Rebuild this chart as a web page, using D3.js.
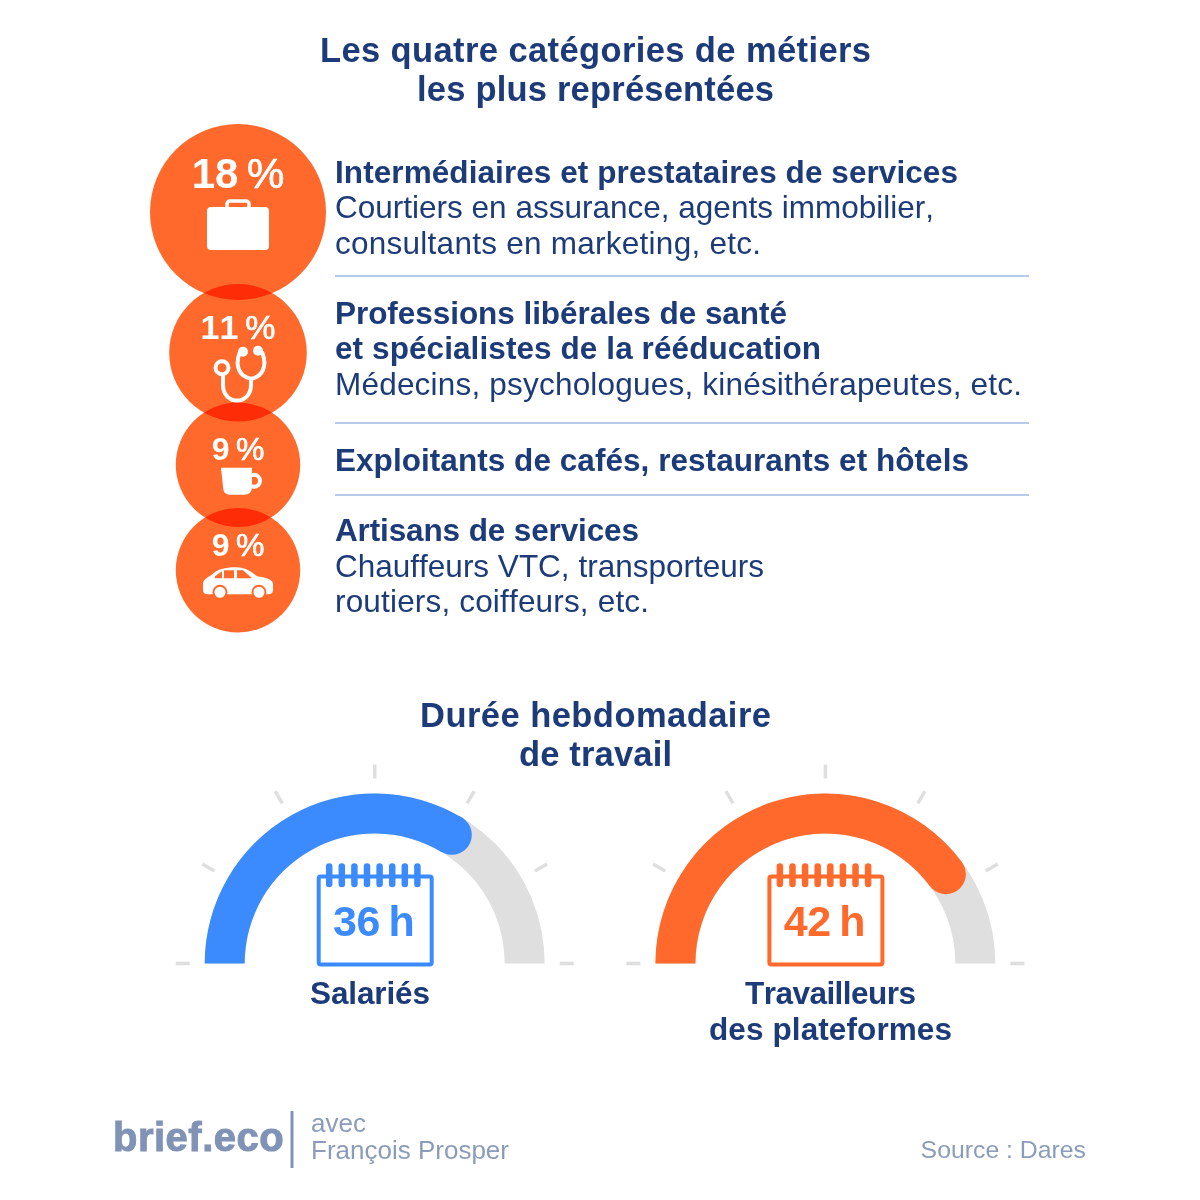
<!DOCTYPE html>
<html lang="fr">
<head>
<meta charset="utf-8">
<script src="https://cdn.jsdelivr.net/npm/d3@7"></script>
<style>
  html, body { margin: 0; background: #fff; }
  svg { display: block; }
  text { font-family: "Liberation Sans", Arial, sans-serif; font-kerning: none; }
  .bold { font-weight: 700; }
</style>
</head>
<body>
<div id="chart"></div>
<script>
// donnees
const parts = [18, 11, 9, 9];
const icones = ["mallette", "stetho", "tasse", "voiture"];
const rowTitles = [
  ["Intermédiaires et prestataires de services"],
  ["Professions libérales de santé", "et spécialistes de la rééducation"],
  ["Exploitants de cafés, restaurants et hôtels"],
  ["Artisans de services"],
];
const rowDetails = [
  ["Courtiers en assurance, agents immobilier,", "consultants en marketing, etc."],
  ["Médecins, psychologues, kinésithérapeutes, etc."],
  [],
  ["Chauffeurs VTC, transporteurs", "routiers, coiffeurs, etc."],
];
const heures = [36, 42];
const heuresLabels = ["36\u2009h", "42\u2009h"];
const gaugeNames = [["Salariés"], ["Travailleurs", "des plateformes"]];
const gaugeTicks = [3.75, 11.75, 19.75, 27.75, 35.75, 43.75, 51.75];

// largeurs mesurees sur le modele
const titleW = [[623], [452, 486], [634], [304]];
const detailW = [[599, 426], [687], [], [429, 314]];

const orange = "#ff6a2c";
const navy = "#1c3b78";
const blue = "#3b8bff";
const grey = "#dfdfdf";
const footerCol = "#8a9cba";

const svg = d3.select("#chart").append("svg")
  .attr("width", 1200)
  .attr("height", 1200)
  .style("background", "#fff");

function multiline(lines, x, y, lh, size, color, anchor, bold, widths) {
  lines.forEach((l, i) => {
    const t = svg.append("text")
      .attr("x", x)
      .attr("y", y + i * lh)
      .attr("font-size", size)
      .attr("fill", color)
      .attr("text-anchor", anchor)
      .attr("class", bold ? "bold" : null)
      .text(l);
    if (widths) t.attr("textLength", widths[i]).attr("lengthAdjust", "spacing");
  });
}

// titres
multiline(["Les quatre catégories de métiers", "les plus représentées"], 595.5, 62, 39, 34.5, navy, "middle", true, [551, 357]);
multiline(["Durée hebdomadaire", "de travail"], 595.5, 727, 39, 34.5, navy, "middle", true, [351, 153]);

// cercles, aire proportionnelle a la part
const rScale = d3.scaleSqrt().domain([0, 18]).range([0, 88]);
const overlaps = [16, 19, 19];
const circleX = 238;
let cy = 124 + rScale(parts[0]);
const centres = parts.map((p, i) => {
  if (i > 0) cy += rScale(parts[i - 1]) + rScale(p) - overlaps[i - 1];
  return cy;
});

svg.append("g")
  .selectAll("circle")
  .data(parts)
  .enter()
  .append("circle")
  .attr("cx", circleX)
  .attr("cy", (d, i) => centres[i])
  .attr("r", (d) => rScale(d))
  .attr("fill", orange)
  .style("mix-blend-mode", "multiply");

// pictos
const dessins = {
  mallette(g) {
    g.append("rect").attr("x", -31).attr("y", -5).attr("width", 62).attr("height", 43).attr("rx", 4).attr("fill", "#fff");
    g.append("rect").attr("x", -11).attr("y", -11).attr("width", 22).attr("height", 10).attr("rx", 3)
      .attr("fill", "none").attr("stroke", "#fff").attr("stroke-width", 3.5);
  },
  stetho(g) {
    g.append("circle").attr("cx", -16).attr("cy", 15).attr("r", 6.5).attr("fill", "none").attr("stroke", "#fff").attr("stroke-width", 4);
    g.append("path").attr("d", "M-15,21 V32 C-15,53 13,53 13,32 V26").attr("fill", "none").attr("stroke", "#fff").attr("stroke-width", 4);
    g.append("path").attr("d", "M2,-1 C-4,14 2,24 13,26 C24,24 30,14 24,-1").attr("fill", "none").attr("stroke", "#fff").attr("stroke-width", 4);
    g.append("circle").attr("cx", 5).attr("cy", -1).attr("r", 5).attr("fill", "#fff");
    g.append("circle").attr("cx", 20).attr("cy", -2).attr("r", 5).attr("fill", "#fff");
  },
  tasse(g) {
    g.append("path").attr("d", "M-17,3 H14 V22 Q14,30 6,30 H-8 Q-15,30 -15,22 Z").attr("fill", "#fff");
    g.append("circle").attr("cx", 16).attr("cy", 16).attr("r", 6).attr("fill", "none").attr("stroke", "#fff").attr("stroke-width", 4);
  },
  voiture(g) {
    g.append("path").attr("d", "M-35,14 C-35,9 -30,7 -27,5 C-21,-1 -13,-3 -2,-3 C6,-3 12,0 19,6 C27,7 35,9 35,14 V20 Q35,24 30,24 H-30 Q-35,24 -35,20 Z").attr("fill", "#fff");
    g.append("path").attr("d", "M-23,6 L-16,1 V8 H-23 Z M-14,0 H-4 V8 H-14 Z M-1,0 H5 L14,8 H-1 Z").attr("fill", orange);
    [-18, 21].forEach((x) => {
      g.append("circle").attr("cx", x).attr("cy", 22).attr("r", 6.5).attr("fill", "#fff").attr("stroke", orange).attr("stroke-width", 2);
    });
  },
};

const pctSize = [42, 34, 32, 32];
const pctBase = [-24, -14, -5, -14];
parts.forEach((p, i) => {
  const t = svg.append("text")
    .attr("x", circleX)
    .attr("y", centres[i] + pctBase[i])
    .attr("text-anchor", "middle")
    .attr("font-size", pctSize[i])
    .attr("class", "bold")
    .attr("fill", "#fff");
  t.append("tspan").text(p + "\u2009");
  // le signe % est un peu plus maigre que le chiffre
  t.append("tspan").attr("font-weight", 400).attr("stroke", "#fff").attr("stroke-width", 0.7).text("%");
  const g = svg.append("g").attr("transform", `translate(${circleX}, ${centres[i]})`);
  dessins[icones[i]](g);
});

// lignes de texte
const textX = 335;
const rowBase = [182.5, 323.5, 471, 541];
const lh = 35.5;
rowTitles.forEach((t, i) => {
  multiline(t, textX, rowBase[i], lh, 31.5, navy, "start", true, titleW[i]);
  multiline(rowDetails[i], textX, rowBase[i] + t.length * lh, lh, 31.5, navy, "start", false, detailW[i]);
});

// separateurs
svg.append("g")
  .selectAll("line")
  .data([276, 423, 495])
  .enter()
  .append("line")
  .attr("x1", textX)
  .attr("x2", 1029)
  .attr("y1", (d) => d)
  .attr("y2", (d) => d)
  .attr("stroke", "#9fbae2")
  .attr("stroke-width", 1.5);

// jauges
const angle = d3.scaleLinear().domain([3.75, 51.75]).range([-Math.PI / 2, Math.PI / 2]);
const baseY = 963.5;
const gaugeX = [374.7, 825.4];
const arc = d3.arc().innerRadius(130).outerRadius(170);
const gaugeCols = [blue, orange];

heures.forEach((h, i) => {
  const g = svg.append("g").attr("transform", `translate(${gaugeX[i]}, ${baseY})`);

  g.selectAll("line")
    .data(gaugeTicks)
    .enter()
    .append("line")
    .attr("x1", (d) => d3.pointRadial(angle(d), 185)[0])
    .attr("y1", (d) => d3.pointRadial(angle(d), 185)[1])
    .attr("x2", (d) => d3.pointRadial(angle(d), 199)[0])
    .attr("y2", (d) => d3.pointRadial(angle(d), 199)[1])
    .attr("stroke", grey)
    .attr("stroke-width", 3.5);

  g.append("path")
    .attr("d", arc({ startAngle: angle(3.75), endAngle: angle(51.75) }))
    .attr("fill", grey);
  g.append("path")
    .attr("d", arc({ startAngle: angle(3.75), endAngle: angle(h) }))
    .attr("fill", gaugeCols[i]);
  const [ex, ey] = d3.pointRadial(angle(h), 150);
  g.append("circle").attr("cx", ex).attr("cy", ey).attr("r", 20).attr("fill", gaugeCols[i]);

  // calendrier
  g.append("rect")
    .attr("x", -56).attr("y", -87).attr("width", 113).attr("height", 88).attr("rx", 2)
    .attr("fill", "#fff")
    .attr("stroke", gaugeCols[i])
    .attr("stroke-width", 4);
  d3.range(8).forEach((k) => {
    const x = -45.5 + k * 12.6;
    g.append("line")
      .attr("x1", x).attr("x2", x).attr("y1", -97).attr("y2", -79.5)
      .attr("stroke", gaugeCols[i])
      .attr("stroke-width", 6.5)
      .attr("stroke-linecap", "round");
  });
  g.append("text")
    .attr("x", -1)
    .attr("y", -28)
    .attr("text-anchor", "middle")
    .attr("font-size", 43)
    .attr("class", "bold")
    .attr("letter-spacing", -0.3)
    .attr("fill", gaugeCols[i])
    .text(heuresLabels[i]);
});

multiline(gaugeNames[0], 370, 1004, 36, 31.5, navy, "middle", true, [120]);
multiline(gaugeNames[1], 830.5, 1004, 36, 31.5, navy, "middle", true, [171, 243]);

// pied
svg.append("text").attr("x", 113).attr("y", 1150.5).attr("font-size", 40).attr("class", "bold")
  .attr("fill", "#8093b6").attr("stroke", "#8093b6").attr("stroke-width", 1).attr("letter-spacing", 0.5).text("brief.eco");
svg.append("line").attr("x1", 292).attr("x2", 292).attr("y1", 1111).attr("y2", 1168).attr("stroke", "#8093b6").attr("stroke-width", 3);
multiline(["avec", "François Prosper"], 311, 1132, 27, 26, footerCol, "start", false);
svg.append("text").attr("x", 1086).attr("y", 1158).attr("text-anchor", "end").attr("font-size", 24.8).attr("fill", footerCol).text("Source : Dares");
</script>
</body>
</html>
